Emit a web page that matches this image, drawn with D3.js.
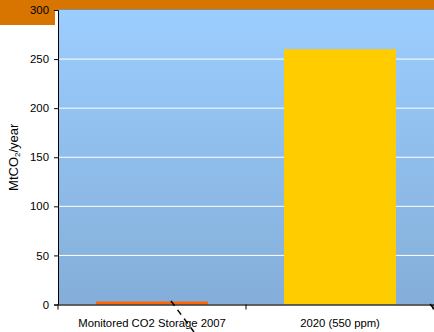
<!DOCTYPE html>
<html><head><meta charset="utf-8">
<script src="https://cdn.jsdelivr.net/npm/d3@7"></script>
<style>body{margin:0;background:#fff}svg{display:block;font-family:"Liberation Sans",Arial,sans-serif}</style>
</head><body>
<svg id="c" width="434" height="332"></svg>
<script>
const categories = ["Monitored CO2 Storage 2007", "2020 (550 ppm)"];
const values = [3, 260];
const yTicks = [0, 50, 100, 150, 200, 250, 300];
const colors = ["#FF6600", "#FFCC00"];

const W = 434, H = 332;
const m = {left: 58, right: 0, top: 10, bottom: 27.5};
const svg = d3.select("#c");
const FONT = "Liberation Sans, Arial, sans-serif";

// orange banners
svg.append("rect").attr("x",0).attr("y",0).attr("width",W).attr("height",10).attr("fill","#D77500");
svg.append("rect").attr("x",0).attr("y",0).attr("width",55).attr("height",25).attr("fill","#D77500");

const x = d3.scaleBand().domain(categories).range([m.left, W - m.right]).paddingInner(0).paddingOuter(0);
const y = d3.scaleLinear().domain([0, 300]).range([H - m.bottom, m.top]);

const defs = svg.append("defs");
const g = defs.append("linearGradient").attr("id","bg").attr("x1",0).attr("y1",0).attr("x2",0).attr("y2",1);
g.append("stop").attr("offset","0%").attr("stop-color","#9BCDFE");
g.append("stop").attr("offset","100%").attr("stop-color","#84AED9");

svg.append("rect").attr("x",m.left).attr("y",m.top).attr("width",W-m.left).attr("height",y(0)-m.top).attr("fill","url(#bg)");
svg.append("line").attr("x1",m.left).attr("x2",W).attr("y1",m.top-0.5).attr("y2",m.top-0.5).attr("stroke","#8a8a8a").attr("stroke-width",1);

// gridlines
svg.append("g").selectAll("line").data(yTicks.filter(d=>d>0 && d<300)).join("line")
  .attr("x1",m.left).attr("x2",W).attr("y1",d=>y(d)).attr("y2",d=>y(d))
  .attr("stroke","#ffffff").attr("stroke-width",1);

// bars
const bw = 112;
svg.append("g").selectAll("rect").data(values).join("rect")
  .attr("x",(d,i)=>x(categories[i]) + (x.bandwidth()-bw)/2)
  .attr("width",bw)
  .attr("y",d=>y(d)).attr("height",d=>y(0)-y(d))
  .attr("fill",(d,i)=>colors[i]);

// y axis
const ya = svg.append("g").attr("transform",`translate(${m.left},0)`)
  .call(d3.axisLeft(y).tickValues(yTicks).tickSize(4).tickPadding(5));
ya.select(".domain").attr("stroke","#000");
ya.selectAll(".tick line").attr("stroke","#000");
ya.selectAll("text").attr("font-size",11.4).attr("fill","#000").attr("font-family",FONT);

// x axis
const xa = svg.append("g").attr("transform",`translate(0,${y(0)})`)
  .call(d3.axisBottom(x).tickSize(0).tickPadding(14));
xa.select(".domain").attr("stroke","#333").attr("stroke-width",1.5);
xa.selectAll("text").attr("font-size",11.3).attr("fill","#000").attr("font-family",FONT);
// category boundary ticks
svg.append("g").selectAll("line").data([m.left, m.left + x.bandwidth(), W-1]).join("line")
  .attr("x1",d=>d).attr("x2",d=>d).attr("y1",y(0)).attr("y2",y(0)+5).attr("stroke","#000");

// y label
svg.append("text").attr("transform",`translate(18,${(m.top+y(0))/2}) rotate(-90)`)
  .attr("text-anchor","middle").attr("font-size",13).attr("fill","#000").attr("font-family",FONT)
  .html('MtCO<tspan font-size="8" dy="2">2</tspan><tspan dy="-2">/year</tspan>');

// dashed pointer line
svg.append("line").attr("x1",171).attr("y1",301).attr("x2",194).attr("y2",332)
  .attr("stroke","#000").attr("stroke-width",1.5).attr("stroke-dasharray","6,5");
svg.append("line").attr("x1",430).attr("y1",304).attr("x2",434).attr("y2",309)
  .attr("stroke","#000").attr("stroke-width",1.5);
</script>
</body></html>
